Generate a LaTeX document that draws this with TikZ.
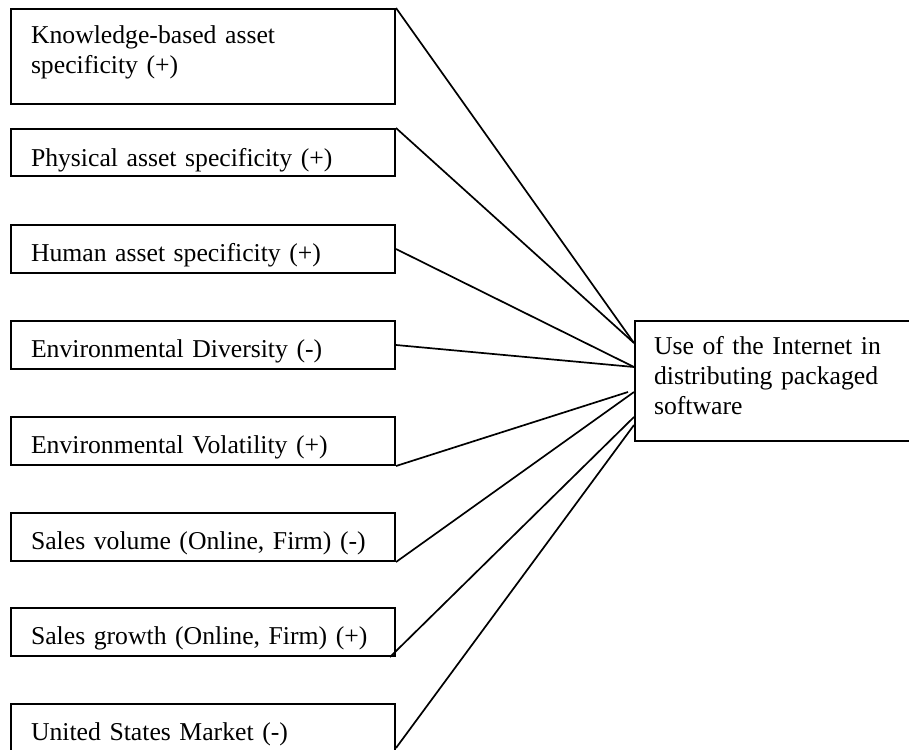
\documentclass[tikz,border=0pt]{standalone}
\usepackage{fontspec}
\setmainfont{Liberation Serif}
\usetikzlibrary{calc}
\begin{document}
\begin{tikzpicture}[x=1pt,y=-1pt,
  box/.style={draw, line width=2pt, rectangle, anchor=north west,
    inner xsep=20pt, inner ysep=0pt, text width=344pt, align=left,
    text height=36pt, text depth=12pt,
    font=\fontsize{25.7}{30}\selectfont},
  link/.style={line width=1.7pt}]
\useasboundingbox (0,0) rectangle (909,749);
\clip (0,0) rectangle (909,749);
\node[box, text height=35pt, text depth=60pt] (k) at (10,8) {Knowledge-based asset\\specificity (+)};
\node[box, text height=37pt, text depth=10pt] (p) at (10,128) {Physical asset specificity (+)};
\node[box] (h) at (10,224) {Human asset specificity (+)};
\node[box] (d) at (10,320) {Environmental Diversity (-)};
\node[box] (v) at (10,416) {Environmental Volatility (+)};
\node[box] (s) at (10,512) {Sales volume (Online, Firm) (-)};
\node[box] (g) at (10,607) {Sales growth (Online, Firm) (+)};
\node[box] (m) at (10,703) {United States Market (-)};
\node[box, text width=250pt, inner xsep=19pt, text height=33pt, text depth=87pt] (u) at (634,320)
  {Use of the Internet in\\distributing packaged\\software};
\coordinate (u1) at ([yshift=-23pt]u.north west);
\coordinate (u2) at ([yshift=-47pt]u.north west);
\coordinate (u3) at ([yshift=-72pt]u.north west);
\coordinate (u3s) at ([xshift=-6pt,yshift=-72pt]u.north west);
\coordinate (u4) at ([yshift=-97pt]u.north west);
\coordinate (u5) at ([yshift=-105pt]u.north west);
\draw[link] (k.north east) -- (u1);
\draw[link] (p.north east) -- (u1);
\draw[link] (h.east) -- (u2);
\draw[link] (d.east) -- (u2);
\draw[link] (v.south east) -- (u3s);
\draw[link] (s.south east) -- (u3);
\draw[link] ([xshift=-6pt]g.south east) -- (u4);
\draw[link] ([yshift=-45pt]m.north east) -- (u5);
\end{tikzpicture}
\end{document}
